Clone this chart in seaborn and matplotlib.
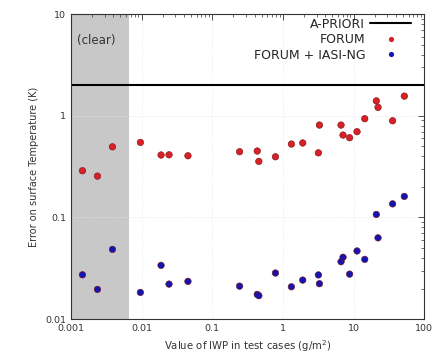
import matplotlib
matplotlib.use("Agg")
import matplotlib.pyplot as plt
import seaborn as sns
import pandas as pd
import numpy as np

iwp = [0.00146, 0.00238, 0.00388, 0.00964, 0.0189, 0.0245, 0.0454, 0.244, 0.434, 0.457,
       0.785, 1.32, 1.91, 3.18, 3.29, 6.65, 7.1, 8.8, 11.2, 14.4, 21, 22.2, 35.7, 52.3]
forum = [0.288, 0.255, 0.495, 0.547, 0.411, 0.413, 0.404, 0.443, 0.45, 0.356,
         0.395, 0.527, 0.54, 0.432, 0.81, 0.81, 0.646, 0.608, 0.697, 0.935, 1.40, 1.21, 0.893, 1.56]
forum_iasi = [0.0273, 0.0196, 0.0485, 0.0183, 0.0338, 0.0221, 0.0235, 0.0211, 0.0175, 0.0170,
              0.0284, 0.0208, 0.0242, 0.0272, 0.0223, 0.0367, 0.0406, 0.0277, 0.0468, 0.0387,
              0.107, 0.063, 0.136, 0.161]
a_priori = 2.0
clear_limit = 0.0066

sns.set_theme(style="white")
plt.rcParams['font.family'] = ['DejaVu Sans']

df = pd.DataFrame({
    "IWP": iwp * 2,
    "err": forum + forum_iasi,
    "series": ["FORUM"] * len(iwp) + ["FORUM + IASI-NG"] * len(iwp),
})

fig = plt.figure(figsize=(4.32, 3.61), dpi=100)
ax = fig.add_axes([0.164, 0.116, 0.818, 0.845])

ax.axvspan(0.001, clear_limit, color="#c8c8c8", zorder=0, lw=0)
ax.axhline(a_priori, color="black", lw=1.5, label="A-PRIORI", zorder=2)
sns.scatterplot(data=df, x="IWP", y="err", hue="series",
                palette={"FORUM": "#d82028", "FORUM + IASI-NG": "#1414b0"},
                s=22, edgecolor="none", ax=ax, zorder=3)
for coll, ec in zip(ax.collections, ["#7a1010", "#08084a"]):
    coll.set_edgecolor(ec)
    coll.set_linewidth(0.4)

ax.set_xscale("log")
ax.set_yscale("log")
ax.set_xlim(0.001, 100)
ax.set_ylim(0.01, 10)
ax.set_xticks([0.001, 0.01, 0.1, 1, 10, 100])
ax.set_xticklabels(["0.001", "0.01", "0.1", "1", "10", "100"])
ax.set_yticks([0.01, 0.1, 1, 10])
ax.set_yticklabels(["0.01", "0.1", "1", "10"])
ax.grid(True, which="major", color="#e6e6e6", lw=0.6, ls=":")
ax.tick_params(which="both", direction="in", top=True, right=True, labelsize=6.8, colors="#333333")
ax.tick_params(which="major", length=4, width=0.6)
ax.tick_params(which="minor", length=2, width=0.5)
ax.minorticks_on()
for sp in ax.spines.values():
    sp.set_color("#333333")
    sp.set_linewidth(0.8)

ax.text(0.00122, 5.5, "(clear)", fontsize=8.5, color="#333333", va="center", ha="left")
ax.set_xlabel("Value of IWP in test cases (g/m$^2$)", fontsize=7.3, color="#333333")
ax.set_ylabel("Error on surface Temperature (K)", fontsize=7, color="#333333")

handles, labels = ax.get_legend_handles_labels()
ax.legend(handles, labels, loc="upper right", bbox_to_anchor=(0.985, 1.013),
          frameon=False, markerfirst=False,
          fontsize=9, handlelength=3.3, borderaxespad=0.2, labelspacing=0.2,
          handletextpad=0.4, markerscale=0.8)

fig.savefig("out.png", dpi=100)
